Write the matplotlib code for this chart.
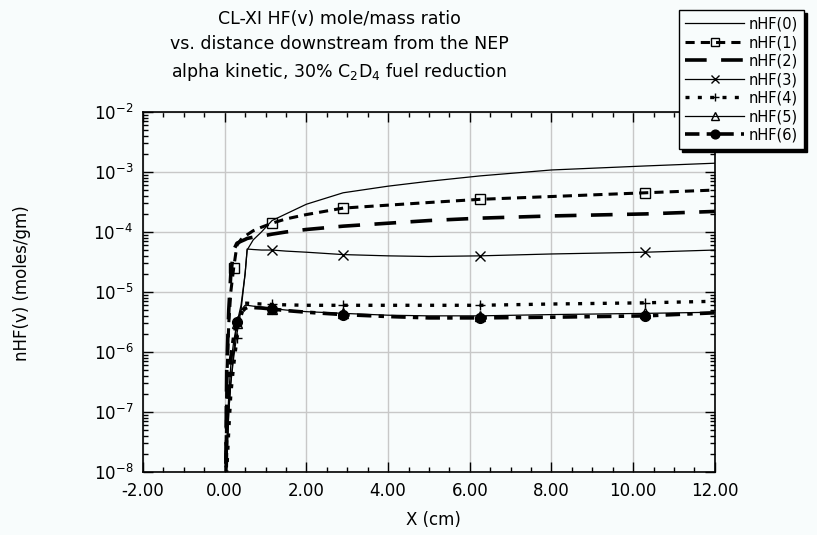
import matplotlib
matplotlib.use("Agg")
import matplotlib.pyplot as plt
import matplotlib.ticker as mt

plt.rcParams["font.family"] = ["DejaVu Sans"]
plt.rcParams["mathtext.default"] = "regular"

BG = "#f8fcfc"

# distance downstream (cm), shared by all series
X = [0.0, 0.05, 0.1, 0.15, 0.22, 0.3, 0.4, 0.5, 0.55, 0.7, 0.9, 1.16,
     1.5, 2.0, 2.9, 4.0, 5.0, 6.25, 8.0, 10.3, 12.0]

n0 = [1e-10, 3e-8, 2e-7, 6e-7, 1.5e-6, 3e-6, 6e-6, 2e-5, 5e-5, 7.4e-5, 1e-4, 1.55e-4,
      2e-4, 2.9e-4, 4.5e-4, 5.8e-4, 7e-4, 8.6e-4, 1.08e-3, 1.26e-3, 1.4e-3]
n1 = [1e-10, 3e-7, 3e-6, 1e-5, 2.5e-5, 6e-5, 7.5e-5, 8.5e-5, 9e-5, 1.05e-4, 1.2e-4, 1.4e-4,
      1.65e-4, 1.95e-4, 2.5e-4, 2.8e-4, 3.1e-4, 3.5e-4, 3.9e-4, 4.5e-4, 5e-4]
n2 = [1e-10, 5e-7, 5e-6, 2e-5, 5e-5, 6.5e-5, 7e-5, 7.5e-5, 7.8e-5, 8.2e-5, 8.5e-5, 9.2e-5,
      1e-4, 1.1e-4, 1.25e-4, 1.4e-4, 1.55e-4, 1.7e-4, 1.85e-4, 2e-4, 2.2e-4]
n3 = [1e-10, 1e-8, 1e-7, 3e-7, 8e-7, 2e-6, 5e-6, 2e-5, 5.2e-5, 5.1e-5, 5e-5, 5e-5,
      4.8e-5, 4.6e-5, 4.2e-5, 4e-5, 3.9e-5, 4e-5, 4.3e-5, 4.6e-5, 5e-5]
n4 = [1e-10, 1e-8, 5e-8, 2e-7, 6e-7, 1.7e-6, 4e-6, 6.5e-6, 6.5e-6, 6.4e-6, 6.3e-6, 6.2e-6,
      6.1e-6, 6e-6, 6e-6, 6e-6, 6e-6, 6e-6, 6.3e-6, 6.6e-6, 7e-6]
n5 = [1e-10, 2e-8, 1e-7, 3e-7, 1e-6, 3e-6, 5e-6, 6e-6, 6e-6, 5.8e-6, 5.6e-6, 5.3e-6,
      5e-6, 4.7e-6, 4.4e-6, 4.1e-6, 4e-6, 4e-6, 4.2e-6, 4.4e-6, 4.6e-6]
n6 = [1e-10, 5e-8, 3e-7, 8e-7, 1.8e-6, 3.2e-6, 4.5e-6, 5.3e-6, 5.5e-6, 5.5e-6, 5.4e-6, 5.2e-6,
      4.9e-6, 4.6e-6, 4.2e-6, 3.9e-6, 3.7e-6, 3.7e-6, 3.8e-6, 4e-6, 4.5e-6]

# where the symbols sit on each curve
MARK_A = [0.22, 1.16, 2.9, 6.25, 10.3]
MARK_B = [0.3, 1.16, 2.9, 6.25, 10.3]
MARK_C = [1.16, 2.9, 6.25, 10.3]

labels = ["nHF(0)", "nHF(1)", "nHF(2)", "nHF(3)", "nHF(4)", "nHF(5)", "nHF(6)"]
XTICKS = [-2, 0, 2, 4, 6, 8, 10, 12]
YTICKS = [1e-8, 1e-7, 1e-6, 1e-5, 1e-4, 1e-3, 1e-2]

fig = plt.figure(figsize=(8.17, 5.35), dpi=100, facecolor=BG)
ax = fig.add_axes([0.175, 0.1178, 0.700, 0.6729], facecolor=BG)


def idx(marks):
    return [i for i, x in enumerate(X) if x in marks]


# (values, linestyle, linewidth, marker, marker face, marker positions)
series = [
    (n0, "-", 0.9, None, "none", []),
    (n1, (0, (3, 2)), 2.2, "s", "none", MARK_A),
    (n2, (0, (6, 4)), 2.6, None, "none", []),
    (n3, "-", 0.9, "x", "none", MARK_C),
    (n4, (0, (1.2, 2.5)), 2.4, "+", "none", MARK_B),
    (n5, "-", 0.9, "^", "none", MARK_B),
    (n6, (0, (4, 2, 1.5, 2)), 2.6, "o", "black", MARK_B),
]

handles = []
for (vals, ls, lw, mk, mfc, marks), lab in zip(series, labels):
    (ln,) = ax.plot(X, vals, color="black", ls=ls, lw=lw, label=lab,
                    marker=mk, markevery=idx(marks) if marks else None,
                    mfc=mfc, mec="black", ms=7, mew=1.0)
    handles.append(ln)

ax.set_yscale("log")
ax.set_xlim(-2, 12)
ax.set_ylim(1e-8, 1e-2)

ax.xaxis.set_major_locator(mt.FixedLocator(XTICKS))
ax.xaxis.set_minor_locator(mt.MultipleLocator(0.5))
ax.xaxis.set_major_formatter(mt.FuncFormatter(lambda v, p: f"{v:.2f}"))
ax.yaxis.set_major_locator(mt.FixedLocator(YTICKS))
ax.yaxis.set_major_formatter(mt.LogFormatterMathtext())
ax.yaxis.set_minor_locator(mt.LogLocator(base=10, subs=range(2, 10), numticks=20))
ax.yaxis.set_minor_formatter(mt.NullFormatter())

ax.grid(True, which="major", color="#c8c8c8", lw=1)
ax.set_axisbelow(True)
ax.tick_params(which="both", direction="in", top=True, right=True,
               labelsize=12, color="black", pad=7)
ax.tick_params(which="major", length=7, width=1)
ax.tick_params(which="minor", length=3.5, width=1)
for s in ax.spines.values():
    s.set_color("black")
    s.set_linewidth(1.2)

fig.text(0.415, 0.982, "CL-XI HF(v) mole/mass ratio\n"
         "vs. distance downstream from the NEP\n"
         "alpha kinetic, 30% C$_2$D$_4$ fuel reduction",
         ha="center", va="top", fontsize=12.5, linespacing=1.5)
fig.text(0.53, 0.028, "X (cm)", ha="center", va="center", fontsize=12)
fig.text(0.027, 0.47, "nHF(v) (moles/gm)", ha="center", va="center",
         rotation=90, fontsize=12)

leg = fig.legend(handles=handles, loc="upper right", bbox_to_anchor=(0.993, 0.995),
                 fontsize=10.5, handlelength=4.0, handletextpad=0.3,
                 labelspacing=0.24, borderpad=0.45, fancybox=False,
                 shadow={"color": "black", "alpha": 1}, framealpha=1,
                 markerscale=0.9)
leg.get_frame().set_edgecolor("black")
leg.get_frame().set_facecolor(BG)
leg.get_frame().set_linewidth(1.0)

fig.savefig("out.png", dpi=100, facecolor=BG)
